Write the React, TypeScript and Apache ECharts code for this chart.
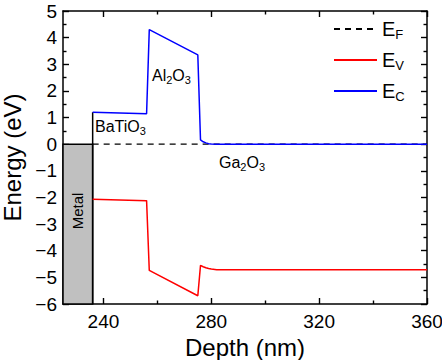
import React, { useEffect, useRef } from "react";
import * as echarts from "echarts";

const FONT = '"Liberation Sans", Arial, Helvetica, sans-serif';

// Fermi level
const depthEF = [236, 360];
const energyEF = [0, 0];
// Valence band
const depthEV = [236, 256, 257, 275, 276, 277, 278, 279, 280, 282, 360];
const energyEV = [-2.07, -2.12, -4.74, -5.69, -4.55, -4.6, -4.64, -4.67, -4.69, -4.71, -4.71];
// Conduction band
const depthEC = [236, 256, 257, 275, 276, 277, 278, 279, 280, 282, 360];
const energyEC = [1.2, 1.14, 4.3, 3.35, 0.16, 0.09, 0.05, 0.02, 0.01, 0, 0];
// Metal block and interface line
const metalDepth = [225, 236];
const metalEnergy = [-6, 0];
const interfaceDepth = [236, 236];
const interfaceEnergy = [-6, 1.2];

const xMajorTicks = [240, 280, 320, 360];
const xMinorTicks = [260, 300, 340];

const zip = (xs: number[], ys: number[]) => xs.map((x, i) => [x, ys[i]]);

export default function App() {
  const ref = useRef<HTMLDivElement>(null);
  useEffect(() => {
    if (!ref.current) return;
    const chart = echarts.init(ref.current, null, { renderer: "svg" });
    const axisLine = { show: true, onZero: false, lineStyle: { color: "#000", width: 1.5 } };
    const noLine = { show: false, onZero: false };
    const tickStyle = { color: "#000", width: 1.4 };
    const xBase = { type: "value", min: 225, max: 360, splitLine: { show: false }, axisLine };
    const yBase = { type: "value", min: -6, max: 5, interval: 1, splitLine: { show: false }, axisLine };
    const sub = { fontSize: 11, fontFamily: FONT, fill: "#000", padding: [9, 0, 0, 0] };
    const norm = { fontSize: 16, fontFamily: FONT, fill: "#000" };
    chart.setOption({
      animation: false,
      backgroundColor: "#fff",
      grid: { left: 63, right: 15, top: 11, bottom: 56, outerBoundsMode: "none", containLabel: false },
      xAxis: [
        {
          ...xBase,
          position: "bottom",
          name: "Depth (nm)",
          nameLocation: "middle",
          nameGap: 19,
          nameTextStyle: { fontSize: 24, fontFamily: FONT, color: "#000" },
          axisTick: { show: true, inside: true, length: 6, customValues: xMajorTicks, lineStyle: tickStyle },
          axisLabel: { show: true, customValues: xMajorTicks, fontSize: 19, fontFamily: FONT, color: "#000", margin: 8 },
        },
        {
          ...xBase,
          position: "top",
          axisTick: { show: true, inside: true, length: 6, customValues: xMajorTicks, lineStyle: tickStyle },
          axisLabel: { show: false },
        },
        {
          ...xBase,
          position: "bottom",
          axisLine: noLine,
          axisTick: { show: true, inside: true, length: 3.5, customValues: xMinorTicks, lineStyle: tickStyle },
          axisLabel: { show: false },
        },
        {
          ...xBase,
          position: "top",
          axisLine: noLine,
          axisTick: { show: true, inside: true, length: 3.5, customValues: xMinorTicks, lineStyle: tickStyle },
          axisLabel: { show: false },
        },
      ],
      yAxis: [
        {
          ...yBase,
          position: "left",
          name: "Energy (eV)",
          nameLocation: "middle",
          nameGap: 24,
          nameRotate: 90,
          nameTextStyle: { fontSize: 24, fontFamily: FONT, color: "#000" },
          axisTick: { show: true, inside: true, length: 6, lineStyle: tickStyle },
          minorTick: { show: true, splitNumber: 2, length: 3.5, lineStyle: tickStyle },
          axisLabel: {
            fontSize: 19,
            fontFamily: FONT,
            color: "#000",
            margin: 6,
            formatter: (v: number) => String(v).replace("-", "\u2212"),
          },
        },
        {
          ...yBase,
          position: "right",
          axisTick: { show: true, inside: true, length: 6, lineStyle: tickStyle },
          minorTick: { show: true, splitNumber: 2, length: 3.5, lineStyle: tickStyle },
          axisLabel: { show: false },
        },
      ],
      legend: {
        orient: "vertical",
        left: 328,
        top: 14,
        itemWidth: 43,
        itemHeight: 14,
        itemGap: 9.5,
        data: ["EF", "EV", "EC"],
        itemStyle: { opacity: 0, color: "rgba(0,0,0,0)", borderWidth: 0 },
        formatter: (name: string) => `{e|E}{s|${name.slice(1)}}`,
        textStyle: {
          rich: {
            e: { fontSize: 20, fontFamily: FONT, color: "#000" },
            s: { fontSize: 13, fontFamily: FONT, color: "#000", padding: [10, 0, 0, 0] },
          },
        },
      },
      series: [
        {
          name: "Metal",
          type: "line",
          data: zip(interfaceDepth, interfaceEnergy),
          symbol: "none",
          lineStyle: { color: "#000", width: 1.5 },
          markArea: {
            silent: true,
            itemStyle: { color: "#c0c0c0", borderColor: "#000", borderWidth: 1.5 },
            data: [[{ coord: [metalDepth[0], metalEnergy[1]] }, { coord: [metalDepth[1], metalEnergy[0]] }]],
          },
          z: 1,
        },
        {
          name: "EF",
          type: "line",
          data: zip(depthEF, energyEF),
          symbol: "none",
          lineStyle: { color: "#000", width: 1.3, type: [6, 5] },
          itemStyle: { color: "#000" },
          z: 2,
        },
        {
          name: "EV",
          type: "line",
          data: zip(depthEV, energyEV),
          symbol: "none",
          lineStyle: { color: "#ff0000", width: 1.5 },
          itemStyle: { color: "#ff0000" },
          z: 3,
        },
        {
          name: "EC",
          type: "line",
          data: zip(depthEC, energyEC),
          symbol: "none",
          lineStyle: { color: "#0000ff", width: 1.5 },
          itemStyle: { color: "#0000ff" },
          z: 4,
        },
      ],
      graphic: [
        { type: "text", left: 95, top: 118, style: { text: "{n|BaTiO}{s|3}", rich: { n: norm, s: sub } } },
        { type: "text", left: 152, top: 67, style: { text: "{n|Al}{s|2}{n|O}{s|3}", rich: { n: norm, s: sub } } },
        { type: "text", left: 219, top: 154, style: { text: "{n|Ga}{s|2}{n|O}{s|3}", rich: { n: norm, s: sub } } },
        {
          type: "text",
          x: 77,
          y: 211,
          rotation: Math.PI / 2,
          style: { text: "Metal", fontSize: 15, fontFamily: FONT, fill: "#000", align: "center", verticalAlign: "middle" },
          z: 10,
        },
      ],
    });
    return () => chart.dispose();
  }, []);
  return <div ref={ref} style={{ position: "fixed", left: 0, top: 0, width: 442, height: 360 }} />;
}
